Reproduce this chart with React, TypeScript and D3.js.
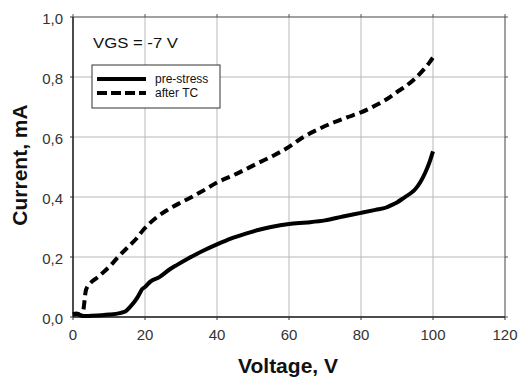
import React from "react";
import * as d3 from "d3";

const xTicks = [0, 20, 40, 60, 80, 100, 120];
const yTicks = [0, 0.2, 0.4, 0.6, 0.8, 1.0];
const yTickLabels = ["0,0", "0,2", "0,4", "0,6", "0,8", "1,0"];

const preStressV = [0, 1, 2, 3, 5, 8, 10, 13, 14.5, 15.8, 17, 18, 18.6, 19.2, 20, 21.4, 24, 27, 28.8, 32, 36, 40, 44, 48, 51.4, 55, 60, 65, 70, 75, 80, 84, 87, 88.3, 90, 92, 93.5, 95, 96.5, 97.8, 99, 100];
const preStressI = [0.008, 0.01, 0.006, 0.003, 0.004, 0.006, 0.008, 0.013, 0.018, 0.033, 0.05, 0.067, 0.08, 0.093, 0.1, 0.117, 0.133, 0.16, 0.173, 0.195, 0.22, 0.242, 0.262, 0.278, 0.29, 0.3, 0.31, 0.315, 0.322, 0.335, 0.347, 0.357, 0.365, 0.372, 0.382, 0.398, 0.41, 0.425, 0.45, 0.48, 0.515, 0.552];

const afterTCV = [0, 1, 2, 2.8, 3.6, 5, 6.6, 8.5, 10.3, 12.5, 15, 17.5, 19.5, 23, 26, 29.7, 33, 36, 40, 45, 51.4, 56, 60, 64, 68, 72.7, 76, 80, 84, 87, 90, 92.5, 95, 97.8, 99, 100];
const afterTCI = [0.01, 0.012, 0.008, 0.02, 0.09, 0.115, 0.13, 0.15, 0.17, 0.2, 0.23, 0.26, 0.29, 0.33, 0.355, 0.38, 0.4, 0.42, 0.448, 0.475, 0.513, 0.54, 0.567, 0.6, 0.625, 0.65, 0.665, 0.682, 0.705, 0.725, 0.75, 0.77, 0.795, 0.83, 0.848, 0.865];

const W = 518;
const H = 378;
const margin = { left: 73, top: 17, right: 13, bottom: 61 };
const font = "'Liberation Sans', Arial, sans-serif";

export default function App() {
  const x = d3.scaleLinear().domain([0, 120]).range([margin.left, W - margin.right]);
  const y = d3.scaleLinear().domain([0, 1]).range([H - margin.bottom, margin.top]);
  const line = d3
    .line<[number, number]>()
    .x((d) => x(d[0]))
    .y((d) => y(d[1]))
    .curve(d3.curveMonotoneX);

  const pre = preStressV.map((v, i) => [v, preStressI[i]] as [number, number]);
  const tc = afterTCV.map((v, i) => [v, afterTCI[i]] as [number, number]);

  const x0 = x(0), x1 = x(120), y0 = y(0), y1 = y(1);

  return (
    <svg
      width={W}
      height={H}
      style={{ position: "absolute", left: 0, top: 0, background: "#fff" }}
    >
      {/* grid */}
      {xTicks.slice(1, -1).map((t) => (
        <line key={"gx" + t} x1={x(t)} x2={x(t)} y1={y0} y2={y1} stroke="#b8b8b8" strokeWidth={1} />
      ))}
      {yTicks.slice(1, -1).map((t) => (
        <line key={"gy" + t} x1={x0} x2={x1} y1={y(t)} y2={y(t)} stroke="#b8b8b8" strokeWidth={1} />
      ))}
      {/* frame */}
      <line x1={x0} x2={x1} y1={y1} y2={y1} stroke="#444" strokeWidth={1} />
      <line x1={x1} x2={x1} y1={y0} y2={y1} stroke="#444" strokeWidth={1} />
      <line x1={x0} x2={x1} y1={y0} y2={y0} stroke="#111" strokeWidth={1.5} />
      <line x1={x0} x2={x0} y1={y0} y2={y1} stroke="#111" strokeWidth={1.5} />
      {/* ticks */}
      {xTicks.map((t) => (
        <g key={"tx" + t}>
          <line x1={x(t)} x2={x(t)} y1={y0} y2={y0 + 3} stroke="#333" />
          <line x1={x(t)} x2={x(t)} y1={y1} y2={y1 - 3} stroke="#555" />
          <text x={x(t)} y={y0 + 23} textAnchor="middle" fontFamily={font} fontSize={15} fill="#333">
            {t}
          </text>
        </g>
      ))}
      {yTicks.map((t, i) => (
        <g key={"ty" + t}>
          <line x1={x0} x2={x0 - 3} y1={y(t)} y2={y(t)} stroke="#333" />
          <line x1={x1} x2={x1 + 3} y1={y(t)} y2={y(t)} stroke="#555" />
          <text x={x0 - 10} y={y(t) + 7} textAnchor="end" fontFamily={font} fontSize={15} fill="#333">
            {yTickLabels[i]}
          </text>
        </g>
      ))}
      {/* series */}
      <path d={line(pre) || ""} fill="none" stroke="#000" strokeWidth={4} strokeLinejoin="round" />
      <path
        d={line(tc) || ""}
        fill="none"
        stroke="#000"
        strokeWidth={4}
        strokeDasharray="9,5"
        strokeLinejoin="round"
      />
      {/* annotation */}
      <text x={93} y={48} fontFamily={font} fontSize={14.5} fill="#111" textLength={85} lengthAdjust="spacingAndGlyphs">
        VGS = -7 V
      </text>
      {/* legend */}
      <rect x={92} y={65} width={128} height={43} fill="#fff" stroke="#333" strokeWidth={1} />
      <line x1={97} x2={146} y1={79} y2={79} stroke="#000" strokeWidth={4} />
      <line x1={97} x2={146} y1={93} y2={93} stroke="#000" strokeWidth={4} strokeDasharray="10,4" />
      <text x={155} y={83} fontFamily={font} fontSize={12} fill="#111">
        pre-stress
      </text>
      <text x={155} y={97} fontFamily={font} fontSize={12} fill="#111">
        after TC
      </text>
      {/* axis titles */}
      <text
        x={288}
        y={373}
        textAnchor="middle"
        fontFamily={font}
        fontSize={21}
        fontWeight="bold"
        fill="#111"
      >
        Voltage, V
      </text>
      <text
        transform={`translate(27, 165) rotate(-90)`}
        textAnchor="middle"
        fontFamily={font}
        fontSize={21}
        fontWeight="bold"
        fill="#111"
      >
        Current, mA
      </text>
    </svg>
  );
}
